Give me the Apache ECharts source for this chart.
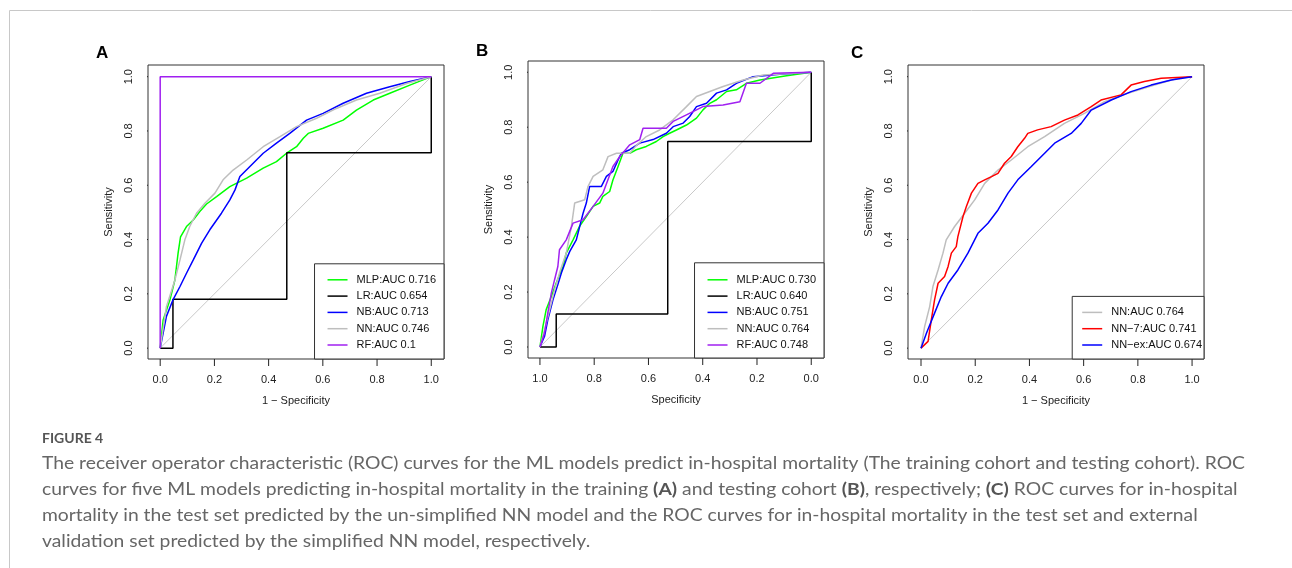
<!DOCTYPE html>
<html>
<head>
<meta charset="utf-8">
<script src="https://cdn.jsdelivr.net/npm/echarts@6/dist/echarts.min.js"></script>
<style>
  html, body { margin: 0; padding: 0; background: #fff; }
  #chart { width: 1292px; height: 568px; }
</style>
</head>
<body>
<div id="chart"></div>
<script>
// tick values shared by all axes
const tickVals = [0, 0.2, 0.4, 0.6, 0.8, 1.0];

// panel A: training cohort (1 - specificity, sensitivity)
const aMLP = [[0,0],[0.011,0.104],[0.036,0.178],[0.054,0.25],[0.066,0.35],[0.075,0.41],[0.097,0.448],[0.122,0.472],[0.146,0.503],[0.171,0.531],[0.208,0.558],[0.257,0.595],[0.319,0.626],[0.38,0.663],[0.429,0.687],[0.466,0.718],[0.503,0.742],[0.528,0.773],[0.546,0.791],[0.601,0.81],[0.675,0.84],[0.724,0.877],[0.786,0.914],[0.847,0.939],[0.921,0.969],[1,1]];
const aLR = [[0,0],[0.047,0],[0.047,0.18],[0.467,0.18],[0.467,0.72],[1,0.72],[1,1]];
const aNB = [[0,0],[0.023,0.117],[0.048,0.18],[0.073,0.227],[0.097,0.276],[0.122,0.325],[0.153,0.387],[0.183,0.436],[0.226,0.497],[0.257,0.546],[0.276,0.583],[0.294,0.632],[0.331,0.669],[0.38,0.718],[0.429,0.755],[0.478,0.791],[0.54,0.84],[0.601,0.865],[0.675,0.902],[0.761,0.939],[0.847,0.963],[0.921,0.982],[1,1]];
const aNN = [[0,0],[0.023,0.153],[0.054,0.25],[0.073,0.325],[0.091,0.399],[0.109,0.448],[0.134,0.497],[0.165,0.534],[0.202,0.571],[0.232,0.62],[0.269,0.656],[0.319,0.693],[0.38,0.742],[0.442,0.779],[0.503,0.816],[0.577,0.847],[0.65,0.883],[0.724,0.914],[0.81,0.939],[0.909,0.975],[1,1]];
const aRF = [[0,0],[0,1],[1,1]];
const aRef = [[0,0],[1,1]];

// panel B: testing cohort (specificity, sensitivity)
const bMLP = [[1,0],[0.989,0.075],[0.977,0.136],[0.958,0.184],[0.94,0.233],[0.915,0.293],[0.903,0.342],[0.878,0.39],[0.854,0.439],[0.829,0.475],[0.804,0.512],[0.78,0.524],[0.768,0.548],[0.743,0.566],[0.731,0.608],[0.712,0.657],[0.694,0.705],[0.669,0.705],[0.645,0.718],[0.608,0.73],[0.571,0.748],[0.546,0.766],[0.522,0.778],[0.497,0.79],[0.46,0.808],[0.423,0.833],[0.399,0.863],[0.374,0.887],[0.349,0.9],[0.312,0.93],[0.276,0.936],[0.239,0.96],[0.189,0.972],[0.091,0.987],[0,1]];
const bLR = [[1,0],[0.94,0],[0.94,0.12],[0.529,0.12],[0.529,0.748],[0,0.748],[0,1]];
const bNB = [[1,0],[0.983,0.039],[0.971,0.099],[0.952,0.172],[0.934,0.227],[0.921,0.269],[0.903,0.318],[0.89,0.348],[0.866,0.39],[0.841,0.487],[0.829,0.524],[0.817,0.584],[0.774,0.584],[0.755,0.621],[0.731,0.639],[0.712,0.681],[0.7,0.705],[0.669,0.718],[0.632,0.742],[0.583,0.755],[0.534,0.778],[0.509,0.802],[0.472,0.815],[0.448,0.839],[0.423,0.875],[0.386,0.887],[0.349,0.924],[0.312,0.936],[0.276,0.96],[0.214,0.984],[0.116,0.993],[0,1]];
const bNN = [[1,0],[0.983,0.063],[0.964,0.136],[0.946,0.208],[0.928,0.269],[0.903,0.342],[0.884,0.439],[0.872,0.524],[0.835,0.536],[0.823,0.584],[0.804,0.621],[0.768,0.645],[0.749,0.693],[0.718,0.705],[0.669,0.705],[0.645,0.733],[0.608,0.766],[0.559,0.79],[0.509,0.827],[0.46,0.875],[0.423,0.912],[0.374,0.93],[0.325,0.948],[0.251,0.972],[0.177,0.99],[0,1]];
const bRF = [[1,0],[0.983,0.051],[0.971,0.124],[0.958,0.196],[0.946,0.245],[0.934,0.293],[0.928,0.354],[0.903,0.39],[0.878,0.451],[0.841,0.463],[0.804,0.512],[0.768,0.56],[0.731,0.657],[0.706,0.693],[0.669,0.736],[0.632,0.755],[0.62,0.796],[0.534,0.796],[0.509,0.821],[0.46,0.845],[0.399,0.875],[0.325,0.881],[0.263,0.893],[0.239,0.96],[0.189,0.96],[0.14,0.996],[0,1]];
const bRef = [[1,0],[0,1]];

// panel C: NN models (1 - specificity, sensitivity)
const cNN = [[0,0],[0.0135,0.08],[0.032,0.153],[0.044,0.227],[0.063,0.288],[0.081,0.35],[0.093,0.399],[0.124,0.448],[0.161,0.497],[0.198,0.546],[0.235,0.607],[0.284,0.656],[0.333,0.693],[0.394,0.742],[0.456,0.779],[0.529,0.828],[0.603,0.865],[0.677,0.908],[0.763,0.939],[0.861,0.969],[0.947,0.994],[1,1]];
const cNN7 = [[0,0],[0.007,0],[0.026,0.025],[0.038,0.104],[0.05,0.178],[0.063,0.239],[0.087,0.264],[0.1,0.301],[0.112,0.35],[0.13,0.374],[0.136,0.411],[0.155,0.485],[0.167,0.521],[0.186,0.571],[0.21,0.607],[0.235,0.62],[0.26,0.632],[0.284,0.644],[0.308,0.681],[0.333,0.706],[0.357,0.742],[0.382,0.773],[0.394,0.791],[0.43,0.804],[0.48,0.816],[0.529,0.84],[0.579,0.859],[0.628,0.89],[0.664,0.914],[0.738,0.933],[0.775,0.969],[0.824,0.982],[0.886,0.994],[1,1]];
const cNNex = [[0,0],[0.02,0.055],[0.05,0.129],[0.075,0.19],[0.1,0.239],[0.136,0.288],[0.173,0.35],[0.21,0.423],[0.247,0.46],[0.284,0.509],[0.321,0.571],[0.357,0.62],[0.407,0.669],[0.456,0.718],[0.493,0.755],[0.554,0.791],[0.591,0.828],[0.628,0.877],[0.702,0.914],[0.775,0.945],[0.849,0.969],[0.923,0.988],[1,1]];
const cRef = [[0,0],[1,1]];

const legendA = ['MLP:AUC 0.716', 'LR:AUC 0.654', 'NB:AUC 0.713', 'NN:AUC 0.746', 'RF:AUC 0.1'];
const legendB = ['MLP:AUC 0.730', 'LR:AUC 0.640', 'NB:AUC 0.751', 'NN:AUC 0.764', 'RF:AUC 0.748'];
const legendC = ['NN:AUC 0.764', 'NN\u22127:AUC 0.741', 'NN\u2212ex:AUC 0.674'];

const captionLines = [
    'The receiver operator characteristic (ROC) curves for the ML models predict in-hospital mortality (The training cohort and testing cohort). ROC',
    'curves for five ML models predicting in-hospital mortality in the training {b|(A)} and testing cohort {b|(B)}, respectively; {b|(C)} ROC curves for in-hospital',
    'mortality in the test set predicted by the un-simplified NN model and the ROC curves for in-hospital mortality in the test set and external',
    'validation set predicted by the simplified NN model, respectively.'
];

const FONT = 'Liberation Sans, Arial, sans-serif';
const C_GREEN = '#00ff00', C_BLACK = '#000000', C_BLUE = '#0000ff', C_GRAY = '#bebebe', C_PURPLE = '#a020f0', C_RED = '#ff0000';

// panel boxes (pixels) and axis ranges, R style 4% padding
const panels = [
    {left: 148, top: 65, width: 296, height: 294, x: [-0.045, 1.047], y: [-0.04, 1.043], inverse: false},
    {left: 528, top: 61, width: 296, height: 297, x: [-0.047, 1.044], y: [-0.04, 1.041], inverse: true},
    {left: 908, top: 65, width: 296, height: 294, x: [-0.048, 1.044], y: [-0.04, 1.043], inverse: false}
];
const TICK_LEN = 7;

let myChart = echarts.init(document.getElementById('chart'));

// caption width fitting
const measureCtx = document.createElement('canvas').getContext('2d');
measureCtx.font = '17px Lato';
const capScale = 1203 / measureCtx.measureText(captionLines[0]).width;

function xAxisOf(gi, name) {
    const p = panels[gi];
    return {
        gridIndex: gi, type: 'value', min: p.x[0], max: p.x[1], inverse: p.inverse,
        name: name, nameLocation: 'middle', nameGap: 36,
        nameTextStyle: {fontFamily: FONT, fontSize: 11, color: '#222'},
        axisLine: {show: false, onZero: false},
        axisTick: {show: false},
        axisLabel: {customValues: tickVals, formatter: v => v.toFixed(1), margin: 15,
            fontFamily: FONT, fontSize: 11, color: '#222'},
        splitLine: {show: false}
    };
}
function yAxisOf(gi) {
    const p = panels[gi];
    return {
        gridIndex: gi, type: 'value', min: p.y[0], max: p.y[1],
        name: 'Sensitivity', nameLocation: 'middle', nameGap: 34,
        nameTextStyle: {fontFamily: FONT, fontSize: 11, color: '#222'},
        axisLine: {show: false, onZero: false},
        axisTick: {show: false},
        axisLabel: {customValues: tickVals, formatter: v => v.toFixed(1), rotate: 90, margin: 14,
            fontFamily: FONT, fontSize: 11, color: '#222'},
        splitLine: {show: false}
    };
}
function curve(gi, name, data, color, width) {
    return {
        name: name, type: 'line', xAxisIndex: gi, yAxisIndex: gi, data: data,
        symbol: 'none', showSymbol: false,
        lineStyle: {color: color, width: width || 1.5},
        itemStyle: {color: color}
    };
}
// outward tick marks on the box edges, one short segment per tick value
function tickMarks(gi) {
    const p = panels[gi];
    const dy = TICK_LEN * (p.y[1] - p.y[0]) / p.height;
    const dx = TICK_LEN * (p.x[1] - p.x[0]) / p.width;
    const xEdge = p.inverse ? p.x[1] : p.x[0];
    const xOut = p.inverse ? p.x[1] + dx : p.x[0] - dx;
    const out = [];
    tickVals.forEach(v => {
        [[[v, p.y[0]], [v, p.y[0] - dy]], [[xEdge, v], [xOut, v]]].forEach(seg => {
            out.push({
                type: 'line', xAxisIndex: gi, yAxisIndex: gi, data: seg,
                symbol: 'none', showSymbol: false, clip: false, silent: true,
                lineStyle: {color: '#222', width: 1}, tooltip: {show: false}
            });
        });
    });
    return out;
}
function legendOf(names, right, bottom, padding) {
    return {
        data: names, orient: 'vertical', right: right, bottom: bottom,
        padding: padding, itemGap: 2.3, itemWidth: 20, itemHeight: 1.5, icon: 'rect',
        backgroundColor: '#fff', borderColor: '#333', borderWidth: 1, borderRadius: 0,
        selectedMode: false,
        textStyle: {fontFamily: FONT, fontSize: 11, color: '#111', lineHeight: 14, padding: [0, 0, 0, 4]}
    };
}

const option = {
    animation: false,
    grid: panels.map(p => ({left: p.left, top: p.top, width: p.width, height: p.height,
        show: true, borderColor: '#333', borderWidth: 1, backgroundColor: 'transparent'})),
    xAxis: [
        xAxisOf(0, '1 \u2212 Specificity'),
        xAxisOf(1, 'Specificity'),
        xAxisOf(2, '1 \u2212 Specificity')
    ],
    yAxis: [yAxisOf(0), yAxisOf(1), yAxisOf(2)],
    legend: [
        legendOf(legendA, 1292 - 444, 568 - 359, [9, 8, 7, 13]),
        legendOf(legendB, 1292 - 824, 568 - 358, [10, 8, 6, 13]),
        legendOf(legendC, 1292 - 1204, 568 - 359, [9, 2, 7, 10])
    ],
    series: [
        curve(0, 'refA', aRef, '#c8c8c8', 1),
        curve(0, legendA[0], aMLP, C_GREEN),
        curve(0, legendA[1], aLR, C_BLACK),
        curve(0, legendA[2], aNB, C_BLUE),
        curve(0, legendA[3], aNN, C_GRAY),
        curve(0, legendA[4], aRF, C_PURPLE),

        curve(1, 'refB', bRef, '#c8c8c8', 1),
        curve(1, legendB[0], bMLP, C_GREEN),
        curve(1, legendB[1], bLR, C_BLACK),
        curve(1, legendB[2], bNB, C_BLUE),
        curve(1, legendB[3], bNN, C_GRAY),
        curve(1, legendB[4], bRF, C_PURPLE),

        curve(2, 'refC', cRef, '#c8c8c8', 1),
        curve(2, legendC[0], cNN, C_GRAY),
        curve(2, legendC[1], cNN7, C_RED),
        curve(2, legendC[2], cNNex, C_BLUE)
    ].concat(tickMarks(0), tickMarks(1), tickMarks(2)),
    graphic: [
        // card frame
        {type: 'line', shape: {x1: 9.5, y1: 10.5, x2: 1292, y2: 10.5}, style: {stroke: '#c8c8c8', lineWidth: 1}, silent: true},
        {type: 'line', shape: {x1: 9.5, y1: 10.5, x2: 9.5, y2: 568}, style: {stroke: '#c8c8c8', lineWidth: 1}, silent: true},
        // panel letters
        {type: 'text', x: 96, y: 53, style: {text: 'A', font: 'bold 17px ' + FONT, fill: '#000', verticalAlign: 'middle'}},
        {type: 'text', x: 476, y: 51.5, style: {text: 'B', font: 'bold 17px ' + FONT, fill: '#000', verticalAlign: 'middle'}},
        {type: 'text', x: 851, y: 53.3, style: {text: 'C', font: 'bold 17px ' + FONT, fill: '#000', verticalAlign: 'middle'}},
        // caption
        {type: 'text', x: 42, y: 438, style: {text: 'FIGURE 4', font: 'bold 14px Lato', fill: '#555', verticalAlign: 'middle'}}
    ].concat(captionLines.map((t, i) => ({
        type: 'text', x: 42, y: 464 + i * 25.7, scaleX: capScale,
        style: {text: t, font: '17px Lato', fill: '#666', verticalAlign: 'middle',
            rich: {b: {font: 'bold 17px Lato', fill: '#555'}}}
    })))
};

myChart.setOption(option);
</script>
</body>
</html>
